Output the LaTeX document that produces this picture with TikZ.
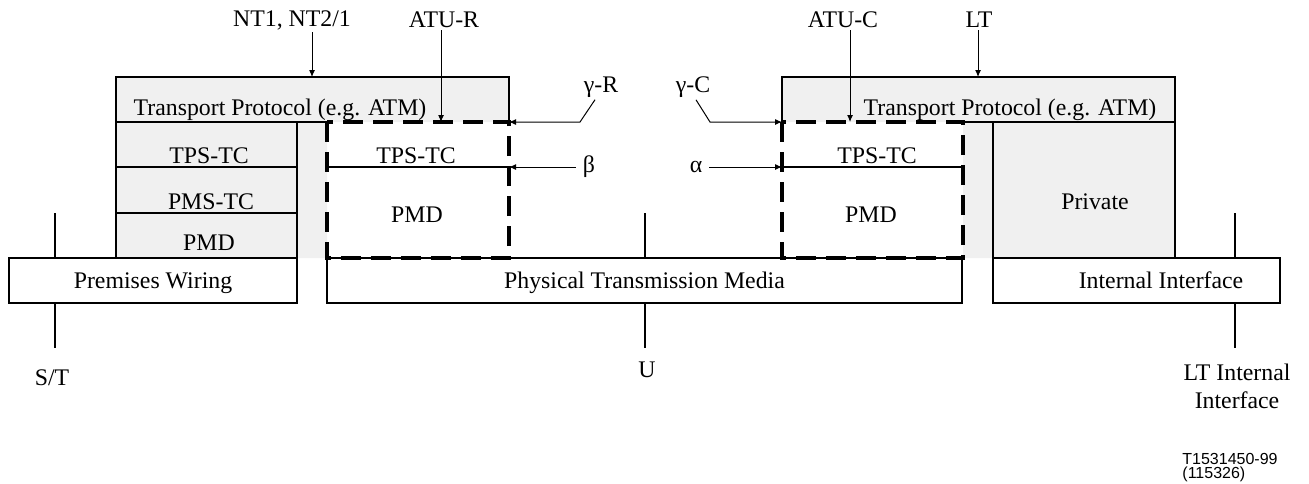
\documentclass[tikz,border=0pt]{standalone}
\usepackage{fontspec}
\setmainfont{Liberation Serif}
\newfontfamily\tagfont{Liberation Sans}
\usetikzlibrary{arrows.meta,positioning,calc}
\definecolor{layergray}{gray}{0.94}

\begin{document}
\begin{tikzpicture}[
    x=0.5pt, y=-0.5pt,
    font=\fontsize{11.9}{14}\selectfont,
    thinline/.style={line width=0.55pt},
    sepline/.style={line width=1.1pt},
    tick/.style={line width=1.1pt},
    dashbox/.style={line width=1.7pt, dash pattern=on 10pt off 5pt},
    arrow/.style={-{Latex[length=3.5pt,width=3pt]}, line width=0.5pt},
    box/.style={draw, line width=0.55pt, minimum height=22.5pt, inner sep=0pt, text height=8pt, text depth=0pt},
    lbl/.style={inner sep=1pt}
]
\useasboundingbox (0,0) rectangle (1309,483);

% grey layer areas
\fill[layergray] (116,77) -- (509,77) -- (509,122) -- (327,122) -- (327,258) -- (116,258) -- cycle;
\fill[layergray] (782,77) -- (1175,77) -- (1175,258) -- (963,258) -- (963,122) -- (782,122) -- cycle;

% NT side outline and separators
\draw[thinline] (116,258) -- (116,77) -- (509,77) -- (509,122);
\draw[sepline] (116,122) -- (327,122);
\draw[sepline] (116,167) -- (297,167);
\draw[sepline] (116,213) -- (297,213);
\draw[thinline] (297,122) -- (297,258);

% LT side outline and separators
\draw[thinline] (782,122) -- (782,77) -- (1175,77) -- (1175,258);
\draw[sepline] (963,122) -- (1175,122);
\draw[thinline] (993,122) -- (993,258);

% bottom boxes
\node[box, minimum width=144pt] (wiring) at (153,280.5) {Premises Wiring};
\node[box, minimum width=317.5pt] (media) at (644.5,280.5) {Physical Transmission Media};
\node[box, minimum width=143.5pt] (intf) at (1136.5,280.5) {};
\node[text height=8pt, text depth=0pt] (intftxt) at (1161,280.5) {Internal Interface};

% ATU boxes (dashed)
\draw[sepline] (327,167) -- (509,167);
\draw[sepline] (782,167) -- (963,167);
\draw[dashbox] (327,122) rectangle (509,258);
\draw[dashbox] (782,122) rectangle (963,258);

% layer texts
\node (tpL) at (280,110) {Transport Protocol (e.g. ATM)};
\node (tpsL) at (209,156) {TPS-TC};
\node (pmsL) at (211,202) {PMS-TC};
\node (pmdL) at (209,243) {PMD};
\node (tpsR) at (416,156) {TPS-TC};
\node (pmdR) at (417,215) {PMD};
\node (tpC) at (1010,110) {Transport Protocol (e.g. ATM)};
\node (tpsC) at (877,156) {TPS-TC};
\node (pmdC) at (871,215) {PMD};
\node (private) at (1095,202) {Private};

% equipment labels
\node[lbl] (ntlbl) at (292,20) {NT1, NT2/1};
\node[lbl] (atur) at (444,20) {ATU-R};
\node[lbl] (atuc) at (843,20) {ATU-C};
\node[lbl] (ltlbl) at (979,20) {LT};
\coordinate (ntTip) at (312,77);
\coordinate (aturTip) at (441,122);
\coordinate (atucTip) at (850,122);
\coordinate (ltTip) at (978,77);
\draw[arrow] (ntlbl.south -| ntTip) -- (ntTip);
\draw[arrow] (atur.south -| aturTip) -- (aturTip);
\draw[arrow] (atuc.south -| atucTip) -- (atucTip);
\draw[arrow] (ltlbl.south -| ltTip) -- (ltTip);

% interface points
\node[lbl] (gR) at (601,87) {γ-R};
\node[lbl] (gC) at (693,87) {γ-C};
\node (beta) at (589,167) {β};
\node (alpha) at (696,167) {α};
\coordinate (gRtip) at (509,122);
\coordinate (gCtip) at (782,122);
\coordinate (betaTip) at (509,167);
\coordinate (alphaTip) at (782,167);
\draw[arrow] ([xshift=-3pt]gR.south) -- ([xshift=-10.5pt]gR.south |- gRtip) -- (gRtip);
\draw[arrow] ([xshift=1.5pt]gC.south) -- ([xshift=8.5pt]gC.south |- gCtip) -- (gCtip);
\draw[arrow] (beta.west) -- (betaTip);
\draw[arrow] (alpha.east) -- (alphaTip);

% reference points
\node (st) at (52,378) {S/T};
\node (u) at (647,370) {U};
\node[align=center] (ltif) at (1237,386) {LT Internal\\Interface};
\draw[tick] (55,213) -- (wiring.north -| 55,0);
\draw[tick] (wiring.south -| 55,0) -- (55,348);
\draw[tick] (645,213) -- (media.north -| 645,0);
\draw[tick] (media.south -| 645,0) -- (645,348);
\draw[tick] (1235,213) -- (intf.north -| 1235,0);
\draw[tick] (intf.south -| 1235,0) -- (1235,348);

\node[anchor=north west, inner sep=0pt, align=left, font=\tagfont\fontsize{8}{7.2}\selectfont] (tag) at (1182,453) {T1531450-99\\(115326)};
\end{tikzpicture}
\end{document}
